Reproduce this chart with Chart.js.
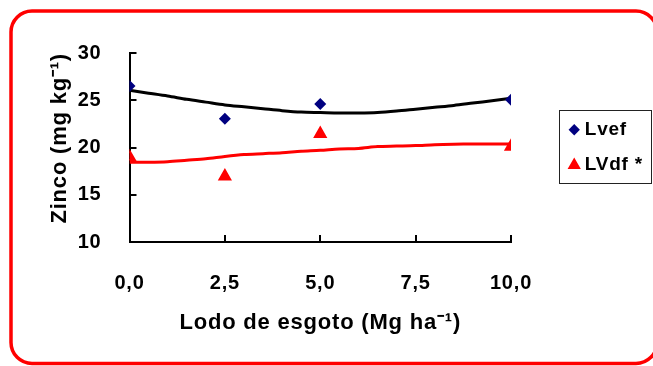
<!DOCTYPE html>
<html>
<head>
<meta charset="utf-8">
<script src="https://cdn.jsdelivr.net/npm/chart.js@4/dist/chart.umd.min.js"></script>
<style>
  html, body { margin: 0; padding: 0; background: #fff; }
  #wrap { position: relative; width: 653px; height: 366px; }
</style>
</head>
<body>
<div id="wrap"><canvas id="c"></canvas></div>
<script>
// Sewage sludge doses (Mg ha-1)
const doses = [0, 2.5, 5, 10];
// Zinc contents (mg kg-1) for each soil
const lvef = [26.5, 23.05, 24.6, 25.05];
const lvdf = [19.0, 16.95, 21.45, 20.1];
// Fitted curves, sampled along the dose axis
const trendX = [0, 0.5, 1, 1.5, 2, 2.5, 3, 3.5, 4, 4.5, 5, 5.5, 6, 6.5, 7, 7.5, 8, 8.5, 9, 9.5, 10];
const lvefTrend = [26.05, 25.75, 25.45, 25.1, 24.8, 24.5, 24.3, 24.1, 23.9, 23.75, 23.7, 23.65, 23.65, 23.7, 23.85, 24.05, 24.25, 24.45, 24.7, 24.95, 25.2];
const lvdfTrend = [18.45, 18.45, 18.5, 18.65, 18.8, 19.05, 19.25, 19.35, 19.45, 19.6, 19.7, 19.85, 19.9, 20.1, 20.15, 20.2, 20.3, 20.35, 20.37, 20.37, 20.37];
// Axis ticks
const xTicks = [0, 2.5, 5, 7.5, 10];
const yTicks = [10, 15, 20, 25, 30];
const seriesNames = ['Lvef', 'LVdf *'];

const FAMILY = '"Liberation Sans", Arial, sans-serif';
const SPACING = '0.8px';
const LEGEND_FONT = 19, LEGEND_PAD = 16.5, LEGEND_BOX = 2;
const RIGHT_SPACE = 142; // room between plot and canvas edge
const TICK_LEN = 7;

const pts = (xs, ys) => xs.map((x, i) => ({ x, y: ys[i] }));

Chart.defaults.font.family = FAMILY;
Chart.defaults.font.weight = 'bold';
Chart.defaults.color = '#000';

function legendWidth(chart) {
  const ctx = chart.ctx;
  ctx.save();
  ctx.font = 'bold ' + LEGEND_FONT + 'px ' + FAMILY;
  const w = Math.max(...seriesNames.map(t => ctx.measureText(t).width));
  ctx.restore();
  return LEGEND_PAD + LEGEND_BOX + LEGEND_FONT / 2 + w + 10;
}

// slightly wider text, set on the base canvas state
const spacingPlugin = {
  id: 'spacing',
  beforeUpdate(chart) { chart.ctx.letterSpacing = SPACING; },
  beforeDraw(chart) { chart.ctx.letterSpacing = SPACING; }
};

// rounded red frame around the whole chart
const framePlugin = {
  id: 'frame',
  beforeDraw(chart) {
    const ctx = chart.ctx;
    ctx.save();
    ctx.fillStyle = '#fff';
    ctx.fillRect(0, 0, chart.width, chart.height);
    ctx.strokeStyle = '#ff0000';
    ctx.lineWidth = 3.5;
    ctx.beginPath();
    ctx.roundRect(11, 11, 646, 352.5, 21);
    ctx.stroke();
    ctx.restore();
  }
};

// short tick marks pointing into the plot
const innerTickPlugin = {
  id: 'innerTicks',
  beforeDatasetsDraw(chart) {
    const { ctx, chartArea: a, scales: { x, y } } = chart;
    ctx.save();
    ctx.strokeStyle = '#000';
    ctx.lineWidth = 2;
    ctx.beginPath();
    xTicks.forEach(v => {
      const px = Math.round(x.getPixelForValue(v));
      ctx.moveTo(px, a.bottom);
      ctx.lineTo(px, a.bottom - TICK_LEN);
    });
    yTicks.forEach(v => {
      const py = Math.round(y.getPixelForValue(v));
      ctx.moveTo(a.left, py);
      ctx.lineTo(a.left + TICK_LEN, py);
    });
    ctx.stroke();
    ctx.restore();
  }
};

// thin box around the legend entries
const legendBoxPlugin = {
  id: 'legendBox',
  afterDraw(chart) {
    const l = chart.legend;
    if (!l) return;
    const n = seriesNames.length;
    const colH = n * (LEGEND_FONT + LEGEND_PAD);
    const y0 = (l.top + LEGEND_PAD + l.bottom - colH) / 2;
    const top = y0 - 10;
    const bottom = y0 + (n - 1) * (LEGEND_FONT + LEGEND_PAD) + LEGEND_FONT + 8;
    const left = Math.round(l.left) + 2;
    const ctx = chart.ctx;
    ctx.save();
    ctx.strokeStyle = '#222';
    ctx.lineWidth = 1;
    ctx.strokeRect(left + 0.5, Math.round(top) + 0.5, 651 - left, Math.round(bottom - top));
    ctx.restore();
  }
};

const axisFont = { family: FAMILY, size: 20, weight: 'bold' };
const titleFont = { family: FAMILY, size: 22, weight: 'bold' };

new Chart(document.getElementById('c'), {
  type: 'scatter',
  data: {
    datasets: [
      { label: seriesNames[0], data: pts(doses, lvef), pointStyle: 'rectRot', pointRadius: 6, pointHoverRadius: 6,
        backgroundColor: '#000080', borderColor: '#000080', pointBorderWidth: 0, order: 0 },
      { label: seriesNames[1], data: pts(doses, lvdf), pointStyle: 'triangle', pointRadius: 6.2, pointHoverRadius: 6.2,
        backgroundColor: '#ff0000', borderColor: '#ff0000', pointBorderWidth: 2, order: 0 },
      { label: 'Lvef trend', data: pts(trendX, lvefTrend), showLine: true, pointRadius: 0, borderColor: '#000',
        borderWidth: 3, tension: 0.3, order: 1 },
      { label: 'LVdf trend', data: pts(trendX, lvdfTrend), showLine: true, pointRadius: 0, borderColor: '#ff0000',
        borderWidth: 3, tension: 0.3, order: 1 }
    ]
  },
  options: {
    responsive: true,
    maintainAspectRatio: false,
    animation: false,
    layout: { padding: { left: 40, top: 53, right: 0, bottom: 30 } },
    plugins: {
      tooltip: { enabled: false },
      legend: {
        position: 'right',
        fullSize: false,
        align: 'center',
        labels: {
          usePointStyle: true,
          boxWidth: LEGEND_BOX,
          boxHeight: 8,
          padding: LEGEND_PAD,
          color: '#000',
          font: { family: FAMILY, size: LEGEND_FONT, weight: 'bold' },
          filter: item => item.datasetIndex < 2
        }
      }
    },
    scales: {
      x: {
        type: 'linear', min: 0, max: 10,
        afterBuildTicks: s => { s.ticks = xTicks.map(v => ({ value: v })); },
        ticks: { font: axisFont, color: '#000', padding: 21, maxRotation: 0, autoSkip: false,
                 callback: v => v.toFixed(1).replace('.', ',') },
        grid: { display: false },
        border: { display: true, color: '#000', width: 2 },
        title: { display: true, text: 'Lodo de esgoto (Mg ha⁻¹)', font: titleFont, color: '#000', padding: { top: 0, bottom: 0 } },
        afterFit: s => { s.height = 94; }
      },
      y: {
        min: 10, max: 30,
        afterBuildTicks: s => { s.ticks = yTicks.map(v => ({ value: v })); },
        ticks: { font: axisFont, color: '#000', padding: 20 },
        grid: { display: false },
        border: { display: true, color: '#000', width: 2 },
        title: { display: true, text: 'Zinco (mg kg⁻¹)', align: 'end', font: titleFont, color: '#000', padding: { top: 7, bottom: 0 } },
        afterFit: s => { s.width = 89.5; }
      },
      spacer: {
        type: 'linear', position: 'right', display: true,
        ticks: { display: false }, grid: { display: false }, border: { display: false },
        afterFit: s => { s.width = Math.max(0, RIGHT_SPACE - legendWidth(s.chart)); }
      }
    }
  },
  plugins: [spacingPlugin, framePlugin, innerTickPlugin, legendBoxPlugin]
});
</script>
</body>
</html>
